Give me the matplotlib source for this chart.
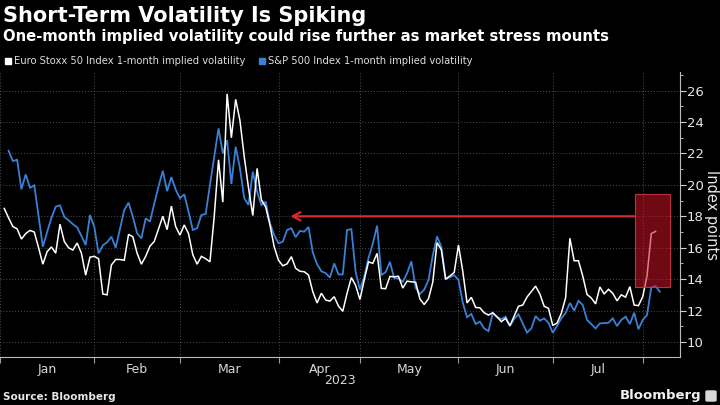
import matplotlib
matplotlib.use("Agg")
import matplotlib.pyplot as plt
import matplotlib.patches as mpatches
from matplotlib.ticker import FixedLocator, NullFormatter
import pandas as pd

# ---------------- data ----------------
title = "Short-Term Volatility Is Spiking"
subtitle = "One-month implied volatility could rise further as market stress mounts"
euro_label = "Euro Stoxx 50 Index 1-month implied volatility"
spx_label = "S&P 500 Index 1-month implied volatility"
year_label = "2023"
y_label = "Index points"
source_text = "Source: Bloomberg"

month_starts = ["2023-01-02", "2023-02-01", "2023-03-01", "2023-04-03",
                "2023-05-01", "2023-06-01", "2023-07-03", "2023-08-01"]
month_labels = ["Jan", "Feb", "Mar", "Apr", "May", "Jun", "Jul"]
y_ticks = [10, 12, 14, 16, 18, 20, 22, 24, 26]

euro_start = "2023-01-03"
euro_vol = [
    18.5, 17.9, 17.35, 17.2, 16.55, 16.9, 17.1, 17.0, 16.0, 14.95,
    15.75, 16.05, 15.65, 17.5, 16.4, 16.0, 15.85, 16.3, 15.65, 14.25,
    15.4, 15.45, 15.3, 13.05, 13.0, 14.9, 15.25, 15.25, 15.2, 16.85,
    16.7, 15.65, 14.95, 15.45, 16.1, 16.4, 17.2, 18.0, 17.15, 18.65,
    17.35, 16.8, 17.45, 16.9, 15.55, 14.95, 15.45, 15.3, 15.1, 18.0,
    21.6, 18.9, 25.8, 23.0, 25.45, 24.1, 21.8, 19.8, 18.05, 21.05,
    19.05, 18.6, 17.45, 16.05, 15.2, 14.85, 14.97, 15.43, 14.69, 14.5,
    14.47, 14.26, 13.2, 12.48, 13.1, 12.67, 12.6, 12.88, 12.28, 11.95,
    13.1, 14.1, 13.6, 12.7, 13.94, 15.1, 15.0, 15.64, 13.41, 13.39,
    14.17, 14.15, 14.18, 13.43, 13.87, 13.83, 13.8, 12.74, 12.38, 12.75,
    13.8, 16.33, 15.87, 14.0, 14.2, 14.42, 16.17, 14.5, 12.48, 12.84,
    12.2, 12.17, 11.86, 11.71, 11.86, 11.6, 11.29, 11.5, 11.03, 11.65,
    12.27, 12.35, 12.86, 13.2, 13.55, 13.05, 12.27, 12.14, 11.05, 11.2,
    11.82, 12.8, 16.6, 15.17, 15.17, 14.2, 13.02, 12.8, 12.42, 13.5,
    13.05, 13.35, 13.1, 12.62, 13.0, 12.85, 13.52, 12.35, 12.31, 12.88,
    14.2, 16.9, 17.04,
]

spx_start = "2023-01-04"
spx_vol = [
    22.18, 21.52, 21.6, 19.72, 20.67, 19.82, 19.97, 18.0, 16.06, 17.0,
    17.9, 18.61, 18.7, 17.97, 17.75, 17.5, 17.3, 16.75, 16.17, 18.08,
    17.34, 15.64, 16.15, 16.35, 16.7, 16.0, 17.2, 18.4, 18.87, 17.97,
    16.92, 16.6, 17.87, 17.66, 18.8, 19.9, 20.9, 19.6, 20.5, 19.7,
    19.15, 19.4, 18.3, 17.13, 17.24, 18.08, 18.15, 20.0, 21.8, 23.6,
    22.0, 22.86, 20.06, 22.43, 21.06, 19.15, 18.72, 20.84, 19.57, 18.72,
    18.93, 17.55, 16.8, 16.28, 16.38, 17.13, 17.24, 16.67, 17.07, 17.02,
    17.32, 15.7, 14.95, 14.5, 14.38, 14.1, 15.0, 14.3, 14.3, 17.13,
    17.18, 14.45, 13.33, 14.15, 15.35, 16.25, 17.4, 14.25, 14.45, 15.1,
    14.05, 14.05, 13.83, 14.37, 15.13, 13.45, 13.05, 13.33, 13.94, 15.5,
    16.72, 16.06, 14.0, 14.12, 14.25, 13.95, 12.5, 11.57, 11.78, 11.14,
    11.29, 10.86, 10.69, 11.82, 11.57, 11.46, 11.61, 11.01, 11.46, 11.76,
    11.18, 10.59, 10.86, 11.65, 11.35, 11.5, 11.22, 10.59, 11.01, 11.5,
    11.84, 12.48, 11.99, 12.62, 12.35, 11.4, 11.14, 10.86, 11.18, 11.2,
    11.22, 11.5, 11.01, 11.4, 11.61, 11.14, 11.86, 10.81, 11.4, 11.71,
    13.48, 13.56, 13.2,
]

# annotation (highlight box and arrow)
box_low, box_high = 13.5, 19.4
box_from, box_to = "2023-07-28", "2023-08-09"
arrow_level = 18.0
arrow_tail, arrow_head = "2023-07-28", "2023-04-06"

# ---------------- trading-day axis ----------------
days = pd.bdate_range("2023-01-02", "2023-08-31")
days = days[days != pd.Timestamp("2023-04-07")]  # Good Friday, both markets shut
pos = {d: i for i, d in enumerate(days)}

def p(date):
    return pos[pd.Timestamp(date)]

euro_x = list(range(p(euro_start), p(euro_start) + len(euro_vol)))
spx_x = list(range(p(spx_start), p(spx_start) + len(spx_vol)))

# ---------------- figure ----------------
BG = "#000000"
BLUE = "#3a80d4"
fig = plt.figure(figsize=(7.2, 4.05), dpi=100, facecolor=BG)
ax = fig.add_axes([0.0, 48 / 405, 680 / 720, (357 - 72) / 405])
ax.set_facecolor(BG)

ax.plot(euro_x, euro_vol, color="#ffffff", lw=1.1, zorder=3, solid_joinstyle="miter")
ax.plot(spx_x, spx_vol, color=BLUE, lw=1.3, zorder=2, solid_joinstyle="miter")

ax.set_xlim(0.95, 158.7)
ax.set_ylim(9.04, 27.19)

# highlight box
bx0 = p(box_from) + 0.1
bx1 = p(box_to) + 0.4
ax.add_patch(mpatches.Rectangle((bx0, box_low), bx1 - bx0, box_high - box_low,
                                facecolor=(0.80, 0.07, 0.15, 0.55),
                                edgecolor=(0.78, 0.22, 0.27, 0.9), lw=0.8, zorder=5))
# arrow
ax.annotate("", xy=(p(arrow_head) - 0.2, arrow_level), xytext=(bx0, arrow_level),
            arrowprops=dict(arrowstyle="->,head_length=0.55,head_width=0.3",
                            color="#d42b2b", lw=1.6, shrinkA=0, shrinkB=0),
            zorder=6)

# y axis on right
ax.yaxis.tick_right()
ax.set_yticks(y_ticks)
ax.yaxis.set_minor_locator(FixedLocator([v + 1 for v in y_ticks] + [9]))
ax.tick_params(axis="y", which="major", colors="#d0d0d0", labelcolor="#e6e6e6",
               labelsize=9.5, length=4, width=0.8, pad=1)
ax.tick_params(axis="y", which="minor", colors="#d0d0d0", length=2, width=0.6)
ax.yaxis.set_label_position("right")
ax.set_ylabel(y_label, color="#e6e6e6", fontsize=10.5, rotation=270, labelpad=11)

# x axis months
bounds = [p(m) for m in month_starts]
ax.set_xticks(bounds)
ax.xaxis.set_major_formatter(NullFormatter())
centers = [(bounds[i] + bounds[i + 1]) / 2 for i in range(len(month_labels))]
ax.set_xticks(centers, minor=True)
ax.set_xticklabels(month_labels, minor=True)
ax.tick_params(axis="x", which="major", colors="#9a9a9a", length=4, width=0.8)
ax.tick_params(axis="x", which="minor", length=0, labelcolor="#d8d8d8",
               labelsize=9, pad=4)

# grid
ax.grid(True, which="major", axis="both", color="#505050", lw=0.7,
        linestyle=(0, (1, 2)))
ax.set_axisbelow(True)

for side in ["top", "left"]:
    ax.spines[side].set_visible(False)
ax.spines["right"].set_color("#bbbbbb")
ax.spines["bottom"].set_color("#bbbbbb")
ax.spines["right"].set_linewidth(0.8)
ax.spines["bottom"].set_linewidth(0.8)

# texts
fig.text(3 / 720, 1 - 16 / 405, title, color="white", fontsize=15,
         fontweight="bold", va="center", ha="left")
fig.text(3 / 720, 1 - 36 / 405, subtitle, color="white", fontsize=10.7,
         fontweight="bold", va="center", ha="left")

# legend
fig.patches.append(mpatches.Rectangle((5 / 720, 1 - 64 / 405), 6 / 720, 6 / 405,
                                      transform=fig.transFigure, color="white"))
fig.text(14 / 720, 1 - 61 / 405, euro_label, color="#dddddd", fontsize=7.2,
         va="center", ha="left")
fig.patches.append(mpatches.Rectangle((259 / 720, 1 - 64 / 405), 6 / 720, 6 / 405,
                                      transform=fig.transFigure, color=BLUE))
fig.text(268 / 720, 1 - 61 / 405, spx_label, color="#dddddd", fontsize=7.2,
         va="center", ha="left")

fig.text(340 / 720, 1 - 381 / 405, year_label, color="#d8d8d8", fontsize=9,
         ha="center", va="center")
fig.text(3 / 720, 1 - 397 / 405, source_text, color="#e6e6e6", fontsize=7.5,
         fontweight="bold", ha="left", va="center")
fig.text(701 / 720, 1 - 396 / 405, "Bloomberg", color="#f0f0f0", fontsize=9.5,
         fontweight="bold", ha="right", va="center")
fig.patches.append(mpatches.FancyBboxPatch((706 / 720, 1 - 401 / 405), 10 / 720, 10 / 405,
                                           boxstyle="round,pad=0,rounding_size=0.002",
                                           transform=fig.transFigure, color="#d8d8d8"))

fig.savefig("out.png", dpi=100, facecolor=BG)
